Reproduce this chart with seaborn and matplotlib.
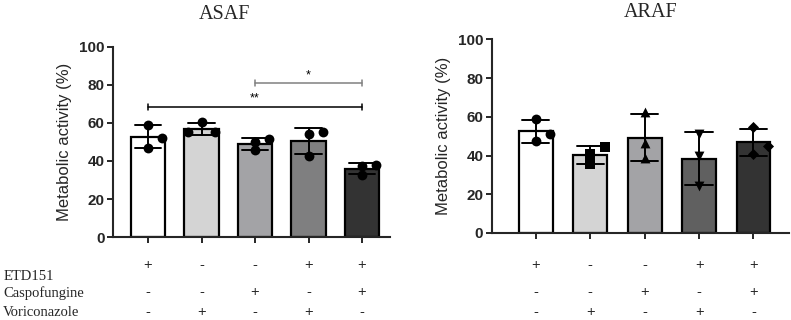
import numpy as np
import pandas as pd
import seaborn as sns
import matplotlib.pyplot as plt
from matplotlib.transforms import blended_transform_factory

# treatment table under the bars
row_labels = ["ETD151", "Caspofungine", "Voriconazole"]
etd151 = ["+", "-", "-", "+", "+"]
caspofungine = ["-", "-", "+", "-", "+"]
voriconazole = ["-", "+", "-", "+", "-"]
groups = ["G1", "G2", "G3", "G4", "G5"]

# replicate values (metabolic activity %)
asaf_values = [[59, 47, 52], [60.5, 55, 55], [50, 45.5, 51.5], [54, 55, 42.5], [37.5, 38, 32.5]]
araf_values = [[59, 47.5, 51], [41, 35.5, 44.5], [62.5, 46.5, 38.5], [51, 40, 24], [54.5, 41, 45]]

# significance brackets: (from, to, height, label)
asaf_sig = [(0, 4, 68.5, "**"), (2, 4, 81, "*")]

# styles
asaf_colors = ["#ffffff", "#d4d4d4", "#a3a3a6", "#7f7f80", "#333333"]
araf_colors = ["#ffffff", "#d4d4d4", "#a3a3a6", "#606060", "#333333"]
asaf_markers = ["o", "o", "o", "o", "o"]
araf_markers = ["o", "s", "^", "v", "D"]
asaf_offsets = [[0, 0, .26], [0, -.26, .26], [0, 0, .26], [0, .27, 0], [0, .26, 0]]
araf_offsets = [[0, 0, .26], [0, 0, .28], [0, 0, 0], [0, 0, 0], [0, 0, .26]]
sig_colors = ["black", "#808080"]

sns.set_style("ticks")
plt.rcParams['font.family'] = ['Liberation Sans', 'DejaVu Sans']

fig = plt.figure(figsize=(7.91, 3.2), dpi=100)
ax1 = fig.add_axes([0.1429, 0.259, 0.350, 0.595])
ax2 = fig.add_axes([0.6216, 0.272, 0.3764, 0.605])


def to_frame(values):
    rows = []
    for g, vals in zip(groups, values):
        for v in vals:
            rows.append({"group": g, "value": v})
    return pd.DataFrame(rows)


def draw_panel(ax, values, colors, markers, offsets, width, xlim):
    df = to_frame(values)
    sns.barplot(data=df, x="group", y="value", hue="group", order=groups,
                palette=colors, legend=False, errorbar="sd", capsize=0.5,
                err_kws={"color": "black", "linewidth": 1.4},
                edgecolor="black", linewidth=1.6, width=width, ax=ax)
    for i, vals in enumerate(values):
        xs = [i + o for o in offsets[i]]
        ax.scatter(xs, vals, marker=markers[i], s=50 if markers[i] != "D" else 32,
                   color="black", zorder=5, linewidths=0)
    ax.set_ylim(0, 100)
    ax.set_xlim(*xlim)
    ax.set_yticks([0, 20, 40, 60, 80, 100])
    ax.set_xticks(range(len(groups)))
    ax.set_xticklabels([])
    ax.set_xlabel("")
    ax.set_ylabel("Metabolic activity (%)", fontsize=12, labelpad=5)
    for lab in ax.get_yticklabels():
        lab.set_fontweight("bold")
        lab.set_fontsize(11)
    ax.tick_params(axis="both", length=4, width=1.4, pad=2)
    sns.despine(ax=ax)
    for s in ["left", "bottom"]:
        ax.spines[s].set_linewidth(1.5)

    tr = blended_transform_factory(ax.transData, fig.transFigure)
    for row, ypos in zip([etd151, caspofungine, voriconazole], [0.172, 0.0875, 0.025]):
        for i, sym in enumerate(row):
            ax.text(i, ypos, sym, transform=tr, ha="center", va="center", fontsize=10.5)


draw_panel(ax1, asaf_values, asaf_colors, asaf_markers, asaf_offsets, 0.65, (-0.654, 4.52))
draw_panel(ax2, araf_values, araf_colors, araf_markers, araf_offsets, 0.62, (-0.81, 4.66))

for (a, b, h, lab), c in zip(asaf_sig, sig_colors):
    ax1.plot([a, b], [h, h], color=c, lw=1.1)
    ax1.plot([a, a], [h - 1.5, h + 1.5], color=c, lw=1.1)
    ax1.plot([b, b], [h - 1.5, h + 1.5], color=c, lw=1.1)
    ax1.text((a + b) / 2, h + 1, lab, ha="center", va="bottom", fontsize=9, color="black")

fig.text(0.284, 0.956, "ASAF", ha="center", va="center", fontsize=14.5, family="Liberation Serif")
fig.text(0.823, 0.962, "ARAF", ha="center", va="center", fontsize=14.5, family="Liberation Serif")

for lab, ypos in zip(row_labels, [0.1375, 0.084, 0.025]):
    fig.text(0.004, ypos, lab, ha="left", va="center", fontsize=10.5, family="Liberation Serif")

fig.savefig("out.png", dpi=100)
